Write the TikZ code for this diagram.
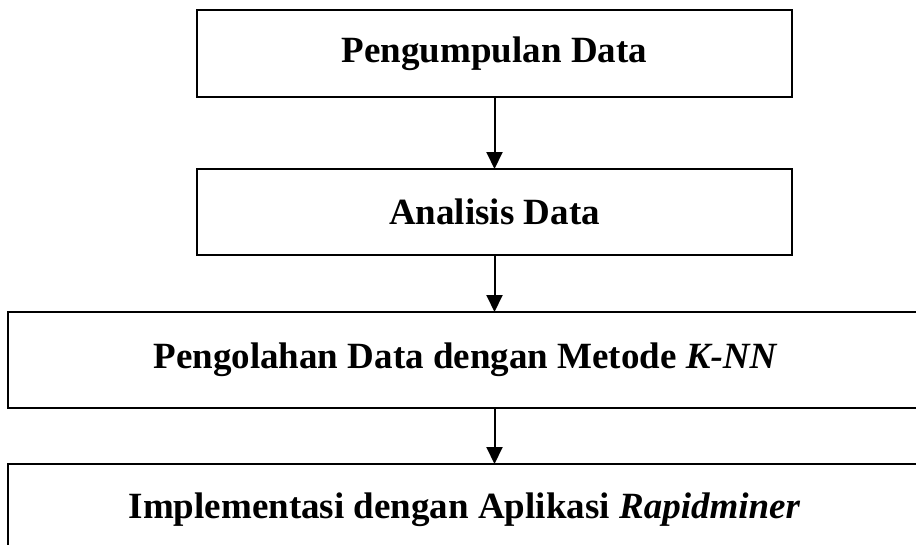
\documentclass[tikz,border=0pt]{standalone}
\usepackage{fontspec}
\setmainfont{Liberation Serif}
\usetikzlibrary{arrows.meta}
\begin{document}
\begin{tikzpicture}[x=1pt,y=-1pt,
  boxline/.style={draw=black,line width=2pt},
  lbl/.style={font=\fontsize{37}{42}\selectfont\bfseries,inner sep=0pt,anchor=center},
  flow/.style={line width=2pt,-{Triangle[width=16pt,length=17pt]}}]
\useasboundingbox (0,0) rectangle (916,544);
\clip (0,0) rectangle (916,544);
\draw[boxline] (197,10) rectangle (792,97);
\draw[boxline] (197,169) rectangle (792,255);
\draw[boxline] (8,312) rectangle (921,408);
\draw[boxline] (8,464) rectangle (921,560);
\node[lbl] (n1) at (494.5,53.5) {Pengumpulan Data};
\node[lbl] (n2) at (494.5,212) {Analisis Data};
\node[lbl] (n3) at (465.5,360) {Pengolahan Data dengan Metode \textit{K-NN}};
\node[lbl] (n4) at (464.5,510) {Implementasi dengan Aplikasi \textit{Rapidminer}};
\coordinate (a1s) at (494.5,97);
\coordinate (a1e) at (494.5,169);
\coordinate (a2s) at (494.5,255);
\coordinate (a2e) at (494.5,312);
\coordinate (a3s) at (494.5,408);
\coordinate (a3e) at (494.5,464);
\draw[flow] (a1s) -- (a1e);
\draw[flow] (a2s) -- (a2e);
\draw[flow] (a3s) -- (a3e);
\end{tikzpicture}
\end{document}
